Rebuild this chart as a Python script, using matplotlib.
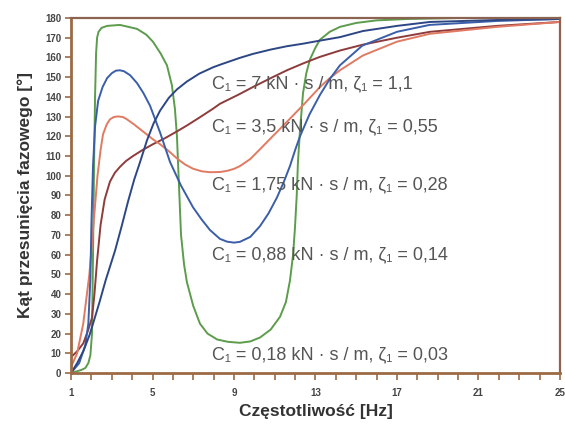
import matplotlib
matplotlib.use("Agg")
import matplotlib.pyplot as plt
from matplotlib.ticker import MultipleLocator

# phase shift curves, frequency [Hz] vs angle [deg]
green_f = [1.0, 1.5, 1.7, 1.85, 1.95, 2.03, 2.08, 2.13, 2.18, 2.23, 2.28, 2.35, 2.5, 2.77, 3.4, 4.24, 4.7, 5.02,
           5.4, 5.71, 5.95, 6.1, 6.2, 6.3, 6.4, 6.55, 6.69, 7.0, 7.33, 7.7, 8.17, 8.7, 9.29, 9.8, 10.28, 10.8,
           11.26, 11.55, 11.75, 11.9, 11.99, 12.08, 12.14, 12.24, 12.39, 12.55, 12.73, 13.0, 13.22, 13.7, 14.2,
           15.0, 16.0, 17.5, 20.0, 25.0]
green_a = [0, 1.5, 2.5, 5, 9, 20, 60, 105, 140, 162, 170, 173, 175, 176, 176.5, 174.5, 171.5, 168,
           162, 156, 146, 134, 120, 95, 70, 55, 46, 34, 25, 20, 17, 15.8, 15.3, 16, 18, 22,
           28.5, 36, 47, 60, 73, 90, 107, 123, 142, 152, 159, 165, 169, 173, 175.5,
           177.5, 178.8, 179.5, 180, 180]

blue_f = [1.0, 1.4, 1.7, 1.85, 1.95, 2.0, 2.08, 2.18, 2.33, 2.55, 2.77, 3.0, 3.2, 3.4, 3.6, 3.9, 4.24,
          4.55, 4.88, 5.37, 5.86, 6.4, 6.99, 7.4, 7.82, 8.31, 8.66, 9.0, 9.29, 9.8, 10.28, 10.7, 11.11,
          11.45, 11.75, 12.0, 12.24, 12.7, 13.22, 13.7, 14.2, 15.3, 17.0, 18.6, 21.9, 25.0]
blue_a = [0, 5, 14, 25, 48, 75, 105, 125, 138, 145, 149.5, 152, 153.3, 153.5, 153, 151, 147,
          142, 135.5, 122, 107, 95, 84, 78, 72.5, 68, 66.6, 66.1, 66.5, 69, 74.5, 81, 89,
          97, 105, 113, 120, 131, 141, 149, 156, 166, 173, 176.5, 178.5, 179.5]

orange_f = [1.0, 1.3, 1.6, 1.9, 2.1, 2.3, 2.45, 2.57, 2.75, 2.91, 3.1, 3.31, 3.55, 3.75, 4.1, 4.53, 5.02,
            5.37, 5.8, 6.2, 6.6, 6.99, 7.4, 7.82, 8.31, 8.66, 9.0, 9.29, 9.8, 10.28, 10.8, 11.26, 11.8, 12.5,
            13.22, 13.7, 14.2, 15.33, 17.0, 18.62, 21.9, 25.0]
orange_a = [3, 10, 25, 50, 75, 100, 113, 121, 126, 128.6, 129.8, 130.1, 129.8, 128.6, 126, 122.5, 118.5,
            116, 112.5, 108.8, 105.7, 103.6, 102.3, 101.8, 101.9, 102.5, 103.5, 104.9, 108.5, 113.5, 119, 123.8, 129.5, 137,
            145, 149.5, 153.5, 161, 168, 172, 175.5, 178]

brown_f = [1.0, 1.3, 1.6, 1.85, 2.03, 2.15, 2.28, 2.45, 2.65, 2.91, 3.15, 3.4, 3.7, 4.04, 4.5, 5.02, 5.6,
           6.2, 6.69, 7.3, 7.97, 8.31, 9.29, 9.93, 10.8, 11.6, 12.4, 13.22, 14.2, 15.33, 17.0, 18.62, 21.9, 25.0]
brown_a = [8, 11, 15, 22, 28, 40, 57, 75, 88, 97, 101.5, 104.5, 107.5, 110, 113, 116, 119,
           122.5, 125.5, 129.5, 134, 136.5, 141.5, 145, 149.5, 153.5, 157, 160.3, 163.5, 166.5, 170, 173, 176, 178]

navy_f = [1.0, 1.3, 1.6, 1.9, 2.08, 2.4, 2.7, 3.16, 3.5, 3.8, 4.1, 4.39, 4.73, 5.05, 5.37, 5.8, 6.2, 6.69,
          7.3, 7.97, 8.31, 9.29, 9.93, 10.8, 11.6, 12.4, 13.2, 14.2, 15.33, 17.0, 18.62, 21.9, 25.0]
navy_a = [0, 5, 11, 19, 25, 36, 47, 62, 75, 87, 98, 107, 118, 126.5, 133, 139.5, 143.8, 147.8,
          151.8, 155, 156.3, 159.8, 161.8, 164, 165.7, 167, 168.5, 170.3, 173.4, 176, 178, 179, 179.5]

labels = ["C₁ = 7 kN · s / m, ζ₁ = 1,1",
          "C₁ = 3,5 kN · s / m, ζ₁ = 0,55",
          "C₁ = 1,75 kN · s / m, ζ₁ = 0,28",
          "C₁ = 0,88 kN · s / m, ζ₁ = 0,14",
          "C₁ = 0,18 kN · s / m, ζ₁ = 0,03"]
label_y = [146.4, 124.6, 95.6, 60, 9.2]
x_ticks = [1, 5, 9, 13, 17, 21, 25]
y_ticks = list(range(0, 181, 10))

fig = plt.figure(figsize=(5.65, 4.33), dpi=100)
ax = fig.add_axes([0.1257, 0.1386, 0.8653, 0.8198])

lw = 1.4
ax.plot(green_f, green_a, color="#5c9c4c", lw=lw)
ax.plot(brown_f, brown_a, color="#8e3b3b", lw=lw)
ax.plot(orange_f, orange_a, color="#e07a62", lw=lw)
ax.plot(blue_f, blue_a, color="#3a5ea8", lw=lw)
ax.plot(navy_f, navy_a, color="#2d4684", lw=lw)

for txt, y in zip(labels, label_y):
    ax.text(7.92, y, txt, fontsize=13, color="#555555", va="center", ha="left",
            family=["Liberation Sans", "DejaVu Sans"])

ax.set_xlim(1, 25)
ax.set_ylim(0, 180)
ax.set_xticks(x_ticks)
ax.xaxis.set_minor_locator(MultipleLocator(1))
ax.set_yticks(y_ticks)

spine_col = "#9c6a45"
for side in ["left", "bottom"]:
    ax.spines[side].set_color(spine_col)
    ax.spines[side].set_linewidth(2)
for side in ["top", "right"]:
    ax.spines[side].set_color("#8a6450")
    ax.spines[side].set_linewidth(1.6)

ax.tick_params(axis="both", which="both", color=spine_col, width=1.2)
ax.tick_params(axis="x", which="major", length=5, pad=6)
ax.tick_params(axis="x", which="minor", length=5)
ax.tick_params(axis="y", length=4, pad=3)
for lab in ax.get_xticklabels() + ax.get_yticklabels():
    lab.set_fontsize(7)
    lab.set_fontweight("bold")
    lab.set_color("#444444")
    lab.set_family("Liberation Sans")

ax.set_xlabel("Częstotliwość [Hz]", fontsize=12.5, fontweight="bold", color="#333333",
              family="Liberation Sans", labelpad=4)
ax.set_ylabel("Kąt przesunięcia fazowego [°]", fontsize=12.5, fontweight="bold", color="#333333",
              family="Liberation Sans", labelpad=9)

fig.savefig("out.png", dpi=100)
